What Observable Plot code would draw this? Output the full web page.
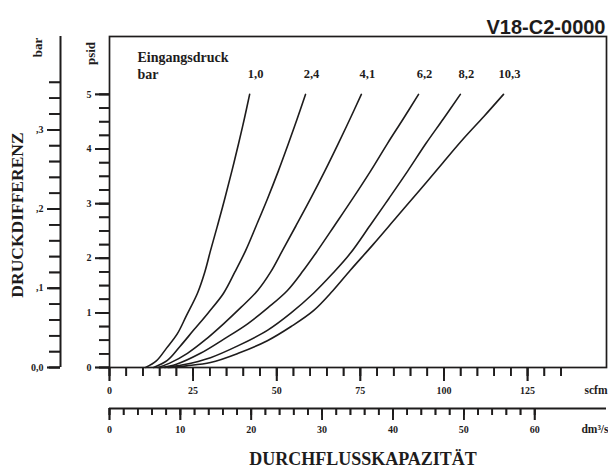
<!DOCTYPE html>
<html><head><meta charset="utf-8">
<script src="https://cdn.jsdelivr.net/npm/d3@7"></script>
<script src="https://cdn.jsdelivr.net/npm/@observablehq/plot@0.6"></script>
<style>
body{margin:0;background:#fff}
#chart{width:608px;height:474px;position:relative}
#chart svg.overlay{position:absolute;left:0;top:0;background:transparent !important;pointer-events:none}
</style>
</head><body><div id="chart"></div>
<script>
// Inlet pressure series labels (bar)
const pressures = ["1,0", "2,4", "4,1", "6,2", "8,2", "10,3"];
// Flow (scfm) and pressure drop (psid), per series
const flow_1_0  = [10.8, 14, 17, 20.3, 23, 26.3, 28.5, 30.2, 32.3, 34.5, 36.6, 38.6, 40.3, 41.9];
const dp_1_0    = [0, 0.12, 0.35, 0.62, 0.95, 1.36, 1.75, 2.14, 2.6, 3.1, 3.6, 4.1, 4.55, 5];
const flow_2_4  = [13.2, 17.3, 21, 25.1, 29.5, 34.1, 37.5, 40.7, 43.9, 47.3, 50.5, 53.5, 56.1, 58.6];
const dp_2_4    = [0, 0.13, 0.38, 0.68, 1.0, 1.36, 1.75, 2.14, 2.6, 3.1, 3.6, 4.1, 4.55, 5];
const flow_4_1  = [14.5, 18, 23.3, 28.5, 34.1, 39.3, 44.3, 48.2, 51.7, 55.8, 60.2, 64.4, 68.4, 71.9, 75.3];
const dp_4_1    = [0, 0.08, 0.26, 0.5, 0.8, 1.1, 1.41, 1.75, 2.14, 2.6, 3.1, 3.6, 4.1, 4.55, 5];
const flow_6_2  = [15.5, 20, 27.2, 34.2, 41.3, 47.5, 53.2, 58, 62.2, 67.3, 72.8, 78.1, 83.1, 87.8, 92.4];
const dp_6_2    = [0, 0.06, 0.26, 0.52, 0.8, 1.1, 1.41, 1.78, 2.14, 2.6, 3.1, 3.6, 4.1, 4.55, 5];
const flow_8_2  = [16.5, 22, 30.2, 38.5, 47.2, 54.3, 61, 66.7, 72, 77.9, 83.6, 89.2, 94.6, 99.8, 104.9];
const dp_8_2    = [0, 0.05, 0.18, 0.4, 0.68, 1.0, 1.36, 1.72, 2.09, 2.6, 3.1, 3.6, 4.1, 4.55, 5];
const flow_10_3 = [17.5, 23, 30.2, 38.5, 47.2, 54.3, 61, 66.7, 72, 78.8, 85.8, 92.8, 99.7, 106, 112, 117.8];
const dp_10_3   = [0, 0.03, 0.09, 0.26, 0.49, 0.75, 1.04, 1.4, 1.78, 2.25, 2.75, 3.25, 3.75, 4.2, 4.6, 5];

const flows = [flow_1_0, flow_2_4, flow_4_1, flow_6_2, flow_8_2, flow_10_3];
const dps = [dp_1_0, dp_2_4, dp_4_1, dp_6_2, dp_8_2, dp_10_3];

// Axis ticks
const psidTicks = [0, 1, 2, 3, 4, 5];
const psidMinor = d3.range(0, 5.001, 0.25);
const barTicks = [0, 0.1, 0.2, 0.3];
const barLabels = ["0,0", ",1", ",2", ",3"];
const barMinor = d3.range(0, 0.3601, 0.02);
const scfmTicks = [0, 25, 50, 75, 100, 125];
const scfmMinor = d3.range(0, 135.01, 5);
const dmTicks = [0, 10, 20, 30, 40, 50, 60];
const dmMinor = d3.range(0, 60.01, 2);

const PSI_PER_BAR = 14.5038;
const DM3S_PER_SCFM = 0.471947;

const rows = [];
pressures.forEach((p, i) => flows[i].forEach((f, j) => rows.push({series: p, flow: f, dp: dps[i][j]})));
const tops = pressures.map((p, i) => ({label: p, flow: flows[i][flows[i].length - 1], dp: dps[i][dps[i].length - 1]}));

const ink = "#1e1c1c";
const serif = "Liberation Serif";
const barPsi = barTicks.map(b => b * PSI_PER_BAR);
const barMinorPsi = barMinor.map(b => b * PSI_PER_BAR);
const dmScfm = dmTicks.map(v => v / DM3S_PER_SCFM);
const dmMinorScfm = dmMinor.map(v => v / DM3S_PER_SCFM);

const W = 608, H = 474, ML = 109, MR = 2, MT = 36, MB = 107;
const FW = W - ML - MR, FH = H - MT - MB;

// short ticks, positioned through the x / y scales
const xTicks = (vals, len, off) => Plot.ruleX(vals, {x: d => d, insetTop: FH - len, dy: off + len, stroke: ink, strokeWidth: 1.7});
const yTicks = (vals, len, off) => Plot.ruleY(vals, {y: d => d, insetRight: FW - len, dx: off - len, stroke: ink, strokeWidth: 1.7});
const label = (txt, o) => Plot.text([txt], {text: d => d, fontWeight: "bold", fill: ink, ...o});

const layout = {
  width: W, height: H,
  marginLeft: ML, marginRight: MR, marginTop: MT, marginBottom: MB,
  x: {domain: [0, 148.6], label: null},
  y: {domain: [0, 6.06], label: null}
};
const tickMarks = () => [
  yTicks(psidMinor, 10, 0),
  yTicks(psidTicks, 14, 0),
  yTicks(barMinorPsi, 11, -49),
  yTicks(barPsi, 13, -49),
  xTicks(scfmMinor, 9, 0),
  xTicks(scfmTicks, 14, 0),
  xTicks(dmMinorScfm, 7, 41),
  xTicks(dmScfm, 12, 41)
];

const chart = Plot.plot({
  ...layout,
  style: {fontFamily: serif, background: "#fff", color: ink},
  marks: [
    Plot.frame({stroke: ink, strokeWidth: 1.7}),
    Plot.ruleX([0], {dx: -49, stroke: ink, strokeWidth: 2}),
    Plot.ruleY([0], {dy: 41, stroke: ink, strokeWidth: 2}),
    ...tickMarks(),
    Plot.axisY(psidTicks, {anchor: "left", tickSize: 0, tickPadding: 18, fontSize: 10, fontWeight: "bold",
      tickFormat: d => String(d), fill: ink, label: null}),
    Plot.axisY(barPsi, {anchor: "left", dx: -49, tickSize: 0, tickPadding: 17, fontSize: 10, fontWeight: "bold",
      tickFormat: d => barLabels[barPsi.indexOf(d)], fill: ink, label: null}),
    Plot.axisX(scfmTicks, {anchor: "bottom", tickSize: 0, tickPadding: 19, fontSize: 10, fontWeight: "bold",
      tickFormat: d => String(d), fill: ink, label: null}),
    Plot.axisX(dmScfm, {anchor: "bottom", dy: 41, tickSize: 0, tickPadding: 17, fontSize: 10, fontWeight: "bold",
      tickFormat: d => String(dmTicks[dmScfm.indexOf(d)]), fill: ink, label: null}),
    Plot.line(rows, {x: "flow", y: "dp", z: "series", stroke: ink, strokeWidth: 1.6, curve: "catmull-rom"}),
    Plot.text(tops, {x: "flow", y: "dp", text: "label", dx: 6, dy: -20, fontSize: 12.5, fontWeight: "bold", fill: ink}),
    label("Eingangsdruck\nbar", {frameAnchor: "top-left", dx: 28, dy: 13, textAnchor: "start", lineAnchor: "top", lineHeight: 1.25, fontSize: 14}),
    label("DRUCKDIFFERENZ", {frameAnchor: "left", textAnchor: "middle", dx: -92, dy: 13, rotate: -90, fontSize: 17.5}),
    label("bar", {frameAnchor: "top-left", textAnchor: "middle", dx: -77, dy: 11, rotate: -90, fontSize: 13}),
    label("psid", {frameAnchor: "top-left", textAnchor: "middle", dx: -24, dy: 17, rotate: -90, fontSize: 13}),
    label("V18-C2-0000", {frameAnchor: "top-right", dx: -1, dy: -17, textAnchor: "end", fontSize: 20, fontFamily: "Liberation Sans"}),
    label("scfm", {frameAnchor: "bottom-right", dx: 1, dy: 26, textAnchor: "end", fontSize: 11.5}),
    label("dm³/s", {frameAnchor: "bottom-right", dx: 2, dy: 65, textAnchor: "end", fontSize: 11.5}),
    label("DURCHFLUSSKAPAZITÄT", {frameAnchor: "bottom", dx: 5, dy: 97, fontSize: 18})
  ]
});

// same scales, ticks only, laid exactly over the main chart
const tickLayer = Plot.plot({
  ...layout,
  x: {...layout.x, axis: null},
  y: {...layout.y, axis: null},
  style: {background: "transparent", color: ink},
  marks: tickMarks()
});
tickLayer.classList.add("overlay");

const host = document.getElementById("chart");
host.append(chart);
host.append(tickLayer);
</script>
</body></html>
